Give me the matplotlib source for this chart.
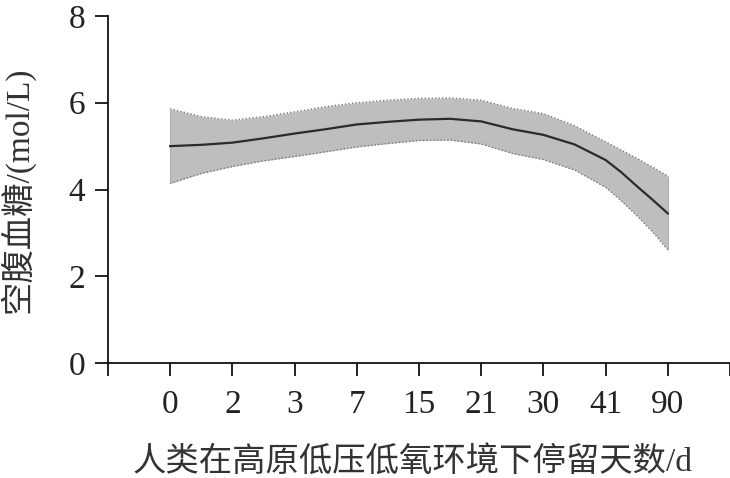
import numpy as np
import matplotlib
matplotlib.use("Agg")
import matplotlib.pyplot as plt

# 横軸カテゴリ(停留天数)
day_labels = ["0", "2", "3", "7", "15", "21", "30", "41", "90"]

# 曲線の読み取り値(カテゴリ位置の 0.5 刻み、右端は 0.25 刻み)
pos = [0, 0.5, 1, 1.5, 2, 2.5, 3, 3.5, 4, 4.5, 5, 5.5, 6, 6.5, 7, 7.25,
       7.5, 7.75, 8]
mean = [5.00, 5.03, 5.08, 5.18, 5.29, 5.39, 5.50, 5.56, 5.61, 5.63, 5.57,
        5.39, 5.26, 5.04, 4.68, 4.40, 4.08, 3.77, 3.45]
upper = [5.86, 5.68, 5.60, 5.68, 5.79, 5.91, 6.00, 6.06, 6.10, 6.11, 6.06,
         5.87, 5.75, 5.47, 5.10, 4.91, 4.72, 4.52, 4.31]
lower = [4.14, 4.37, 4.53, 4.66, 4.76, 4.87, 4.98, 5.06, 5.13, 5.14, 5.05,
         4.83, 4.69, 4.45, 4.05, 3.74, 3.40, 3.03, 2.61]

yticks = [0, 2, 4, 6, 8]

plt.rcParams['font.family'] = ['Liberation Serif', 'Noto Sans CJK SC']
plt.rcParams['axes.unicode_minus'] = False

fig = plt.figure(figsize=(7.3, 4.78), dpi=100)
ax = fig.add_axes([108 / 730, 1 - 363 / 478, 1 - 108 / 730, (363 - 16) / 478])

# 信頼区間
ax.fill_between(pos, lower, upper, color="#bebebe", linewidth=0, zorder=1)
ax.plot(pos, upper, color="#7a7a7a", linewidth=1.0, linestyle=(0, (1, 1.5)), zorder=2)
ax.plot(pos, lower, color="#7a7a7a", linewidth=1.0, linestyle=(0, (1, 1.5)), zorder=2)
ax.vlines([pos[0], pos[-1]], [lower[0], lower[-1]], [upper[0], upper[-1]],
          color="#b0b0b0", linewidth=0.8, zorder=2)
# 平均曲線
ax.plot(pos, mean, color="#2b2b2b", linewidth=1.6, zorder=3)

# 軸の設定
ax.set_xlim(-1, 9)
ax.set_ylim(0, 8)
ax.set_xticks(range(-1, 10))
ax.set_xticklabels([""] + day_labels + [""])
ax.set_yticks(yticks)
ax.set_yticklabels([str(v) for v in yticks])

for s in ["top", "right"]:
    ax.spines[s].set_visible(False)
for s in ["left", "bottom"]:
    ax.spines[s].set_linewidth(1.3)
    ax.spines[s].set_color("#111111")

ax.tick_params(axis="both", direction="out", length=9.4, width=1.3,
               color="#111111", labelsize=24, labelcolor="#222222")
ax.tick_params(axis="y", pad=7)
ax.tick_params(axis="x", pad=10)

ax.set_xlabel("人类在高原低压低氧环境下停留天数/d", fontsize=24, color="#333333",
              fontweight="light")
ax.set_ylabel("空腹血糖/(mol/L)", fontsize=24, color="#333333", fontweight="light")
ax.xaxis.set_label_coords(0.49, -0.238)
ax.yaxis.set_label_coords(-0.118, 0.5)

fig.savefig("out.png", dpi=100)
